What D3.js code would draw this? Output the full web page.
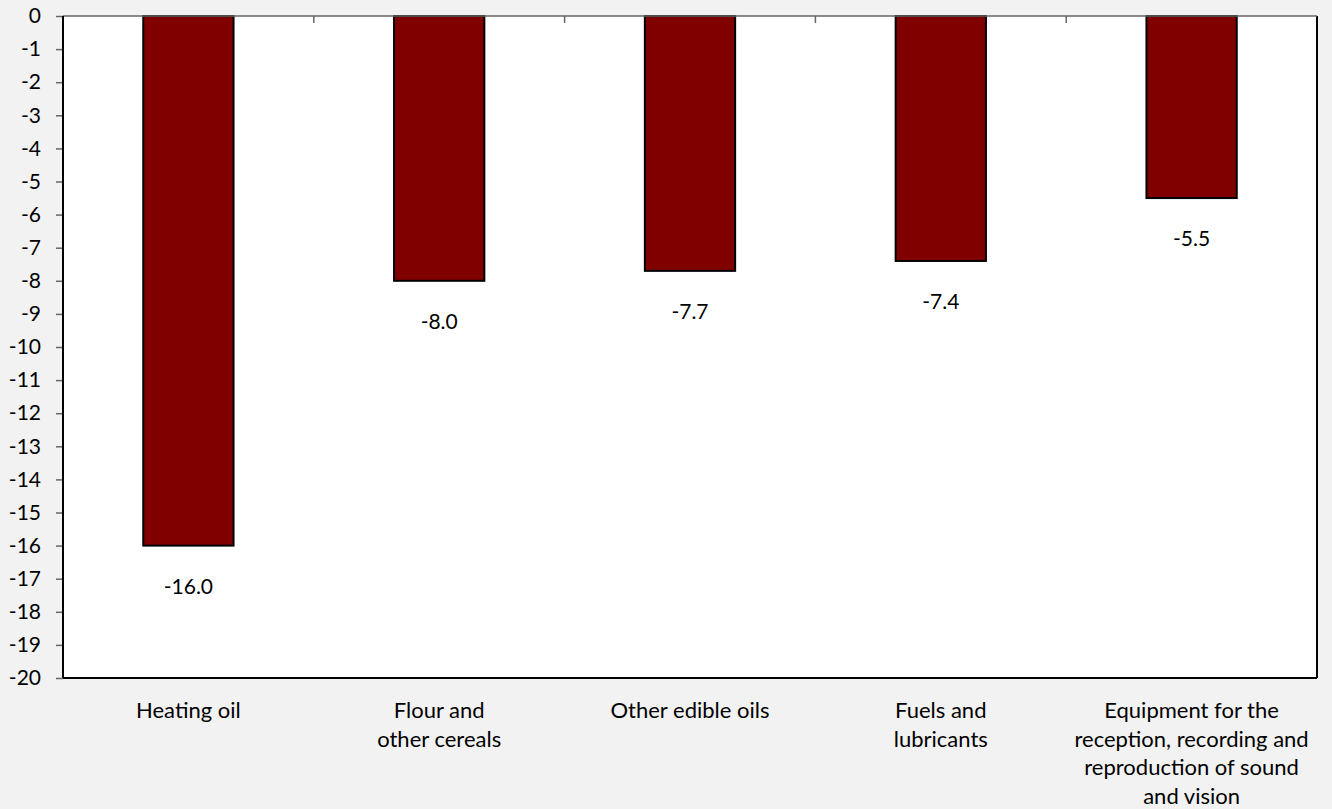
<!DOCTYPE html>
<html>
<head>
<meta charset="utf-8">
<script src="https://cdn.jsdelivr.net/npm/d3@7"></script>
<style>
  html, body { margin: 0; padding: 0; background: #f2f2f2; }
  svg { display: block; font-family: Lato, "Open Sans", sans-serif; }
</style>
</head>
<body>
<svg id="chart" width="1332" height="809"></svg>
<script>
const categories = [
  ["Heating oil"],
  ["Flour and", "other cereals"],
  ["Other edible oils"],
  ["Fuels and", "lubricants"],
  ["Equipment for the", "reception, recording and", "reproduction of sound", "and vision"]
];
const values = [-16.0, -8.0, -7.7, -7.4, -5.5];
const yTicks = d3.range(0, -21, -1);

const svg = d3.select("#chart");
const W = 1332, H = 809;
const m = { left: 63, right: 15, top: 16, bottom: 131 };
const pw = W - m.left - m.right, ph = H - m.top - m.bottom;

svg.append("rect").attr("width", W).attr("height", H).attr("fill", "#f2f2f2");

const g = svg.append("g").attr("transform", `translate(${m.left},${m.top})`);

const x = d3.scaleBand().domain(d3.range(values.length)).range([0, pw]).padding(0);
const y = d3.scaleLinear().domain([-20, 0]).range([ph, 0]);

// plot area
g.append("rect").attr("width", pw).attr("height", ph).attr("fill", "#fff");

// bars
const barW = x.bandwidth() * 0.36;
g.selectAll("rect.bar").data(values).enter().append("rect")
  .attr("class", "bar")
  .attr("x", (d, i) => x(i) + (x.bandwidth() - barW) / 2)
  .attr("y", d => y(Math.max(0, d)))
  .attr("width", barW)
  .attr("height", d => Math.abs(y(d) - y(0)))
  .attr("fill", "#800000")
  .attr("stroke", "#000")
  .attr("stroke-width", 2);

// value labels
g.selectAll("text.val").data(values).enter().append("text")
  .attr("class", "val")
  .attr("x", (d, i) => x(i) + x.bandwidth() / 2)
  .attr("y", d => y(d) + 41)
  .attr("dy", "0.35em")
  .attr("text-anchor", "middle")
  .attr("font-size", 21)
  .attr("fill", "#000")
  .text(d => d.toFixed(1));

// border (right, bottom)
g.append("line").attr("x1", pw).attr("x2", pw).attr("y1", 0).attr("y2", ph)
  .attr("stroke", "#000").attr("stroke-width", 2);
g.append("line").attr("x1", 0).attr("x2", pw).attr("y1", ph).attr("y2", ph)
  .attr("stroke", "#000").attr("stroke-width", 2);

// x axis at zero (top) with inward ticks at category boundaries
const xAxisG = g.append("g");
xAxisG.append("line").attr("x1", 0).attr("x2", pw).attr("y1", y(0)).attr("y2", y(0))
  .attr("stroke", "#666").attr("stroke-width", 1.5);
xAxisG.selectAll("line.tk").data(d3.range(1, values.length)).enter().append("line")
  .attr("class", "tk")
  .attr("x1", i => x(i)).attr("x2", i => x(i))
  .attr("y1", y(0)).attr("y2", y(0) + 7)
  .attr("stroke", "#666").attr("stroke-width", 1.5);

// y axis
const yAxis = d3.axisLeft(y).tickValues(yTicks).tickSize(7).tickPadding(15)
  .tickFormat(d => String(d));
const yG = g.append("g").call(yAxis);
yG.select(".domain").remove();
yG.selectAll(".tick line").attr("stroke", "#666").attr("stroke-width", 1.5);
yG.selectAll(".tick text").attr("font-size", 21).attr("fill", "#000")
  .attr("font-family", 'Lato, "Open Sans", sans-serif');
g.append("line").attr("x1", 0).attr("x2", 0).attr("y1", 0).attr("y2", ph)
  .attr("stroke", "#000").attr("stroke-width", 2);

// category labels
const catG = g.selectAll("text.cat").data(categories).enter().append("text")
  .attr("class", "cat")
  .attr("x", (d, i) => x(i) + x.bandwidth() / 2)
  .attr("y", ph + 40)
  .attr("text-anchor", "middle")
  .attr("font-size", 22)
  .attr("fill", "#000");
catG.selectAll("tspan").data(d => d).enter().append("tspan")
  .attr("x", function() { return d3.select(this.parentNode).attr("x"); })
  .attr("dy", (d, j) => j === 0 ? 0 : 28.5)
  .text(d => d);
</script>
</body>
</html>
